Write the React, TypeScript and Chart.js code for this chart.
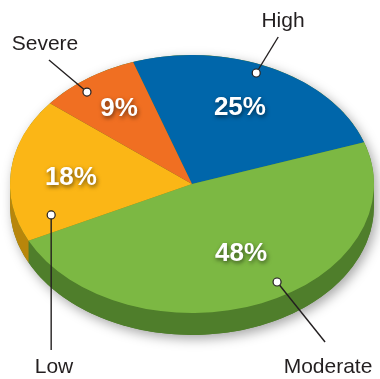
import React, { useEffect, useRef } from "react";
import { Chart, registerables } from "chart.js";

Chart.register(...registerables);

const categories = ["High", "Moderate", "Low", "Severe"];
const values = [25, 48, 18, 9];
const percentLabels = ["25%", "48%", "18%", "9%"];

const topColors = ["#0066aa", "#7cb843", "#fbb616", "#f06f22"];
const sideColors = ["#004a7c", "#4f7e2b", "#b8860b", "#b0501a"];

const TILT = 129 / 182; // vertical squash of the pie
const DEPTH = 22; // thickness of the pie

// placement of percentage labels: radius fraction and angular shift (deg) from slice middle
const labelFrac = [0.645, 0.606, 0.667, 0.706];
const labelShift = [-2, -3.9, -2.3, 0.5];

// callout definitions: dot at (angle in degrees, radius fraction), line end offset, text position
const callouts = [
  { idx: 0, angle: -67.7, frac: 0.93, dx: 22, dy: -36, tx: 283, ty: 27 },
  { idx: 1, angle: 58.4, frac: 0.892, dx: 48, dy: 60, tx: 328, ty: 373 },
  { idx: 2, angle: 162.8, frac: 0.81, dx: 0, dy: 135, tx: 54, ty: 373 },
  { idx: 3, angle: 231, frac: 0.917, dx: -38, dy: -32, tx: 45, ty: 50 },
];

const pie3d = {
  id: "pie3d",
  beforeDatasetsDraw(chart: any) {
    const ctx = chart.ctx as CanvasRenderingContext2D;
    const arcs = chart.getDatasetMeta(0).data as any[];
    if (!arcs.length) return;
    const { x: cx, y: cy, outerRadius: rx } = arcs[0].getProps(["x", "y", "outerRadius"], true);
    const ry = rx * TILT;

    // shadow under whole body
    ctx.save();
    ctx.shadowColor = "rgba(0,0,0,0.35)";
    ctx.shadowBlur = 12;
    ctx.shadowOffsetX = 3;
    ctx.shadowOffsetY = 4;
    ctx.fillStyle = sideColors[1];
    ctx.beginPath();
    ctx.ellipse(cx, cy, rx, ry, 0, Math.PI, 0, false);
    ctx.ellipse(cx, cy + DEPTH, rx, ry, 0, 0, Math.PI, false);
    ctx.closePath();
    ctx.fill();
    ctx.restore();

    // sides
    const TWO = Math.PI * 2;
    arcs.forEach((arc: any, i: number) => {
      const { startAngle, endAngle } = arc.getProps(["startAngle", "endAngle"], true);
      for (let k = -1; k <= 1; k++) {
        const s = startAngle + k * TWO;
        const e = endAngle + k * TWO;
        const a1 = Math.max(s, 0);
        const a2 = Math.min(e, Math.PI);
        if (a2 > a1) {
          ctx.save();
          ctx.fillStyle = sideColors[i];
          ctx.beginPath();
          ctx.ellipse(cx, cy, rx, ry, 0, a1, a2, false);
          ctx.ellipse(cx, cy + DEPTH, rx, ry, 0, a2, a1, true);
          ctx.closePath();
          ctx.fill();
          ctx.restore();
        }
      }
    });

    ctx.save();
    ctx.translate(cx, cy);
    ctx.scale(1, TILT);
    ctx.translate(-cx, -cy);
  },
  afterDatasetsDraw(chart: any) {
    const ctx = chart.ctx as CanvasRenderingContext2D;
    ctx.restore();
    const arcs = chart.getDatasetMeta(0).data as any[];
    if (!arcs.length) return;
    const { x: cx, y: cy, outerRadius: rx } = arcs[0].getProps(["x", "y", "outerRadius"], true);
    const ry = rx * TILT;

    // percentages
    ctx.save();
    ctx.font = "bold 26px 'Liberation Sans', Arial, sans-serif";
    ctx.textAlign = "center";
    ctx.textBaseline = "middle";
    ctx.fillStyle = "#ffffff";
    ctx.shadowColor = "rgba(0,0,0,0.55)";
    ctx.shadowBlur = 4;
    ctx.shadowOffsetX = 1;
    ctx.shadowOffsetY = 2;
    arcs.forEach((arc: any, i: number) => {
      const { startAngle, endAngle } = arc.getProps(["startAngle", "endAngle"], true);
      const mid = (startAngle + endAngle) / 2 + (labelShift[i] * Math.PI) / 180;
      const f = labelFrac[i];
      const x = cx + rx * f * Math.cos(mid);
      const y = cy + ry * f * Math.sin(mid);
      ctx.fillText(percentLabels[i], x, y);
    });
    ctx.restore();

    // callouts
    ctx.save();
    ctx.strokeStyle = "#231f20";
    ctx.fillStyle = "#231f20";
    ctx.lineWidth = 1.4;
    ctx.font = "21px 'Liberation Sans', Arial, sans-serif";
    ctx.textAlign = "center";
    ctx.textBaseline = "alphabetic";
    callouts.forEach((c) => {
      const a = (c.angle * Math.PI) / 180;
      const px = cx + rx * c.frac * Math.cos(a);
      const py = cy + ry * c.frac * Math.sin(a);
      ctx.beginPath();
      ctx.moveTo(px, py);
      ctx.lineTo(px + c.dx, py + c.dy);
      ctx.stroke();
      ctx.beginPath();
      ctx.arc(px, py, 4, 0, Math.PI * 2);
      ctx.fillStyle = "#ffffff";
      ctx.fill();
      ctx.lineWidth = 1.2;
      ctx.stroke();
      ctx.lineWidth = 1.4;
      ctx.fillStyle = "#231f20";
      ctx.fillText(categories[c.idx], c.tx, c.ty);
    });
    ctx.restore();
  },
};

export default function App() {
  const ref = useRef<HTMLCanvasElement | null>(null);
  useEffect(() => {
    if (!ref.current) return;
    const chart = new Chart(ref.current, {
      type: "pie",
      data: {
        labels: categories,
        datasets: [
          {
            data: values,
            backgroundColor: topColors,
            borderWidth: 0,
            clip: false as any,
          },
        ],
      },
      options: {
        responsive: false,
        animation: false,
        devicePixelRatio: 1,
        rotation: -18.9,
        layout: { padding: { left: 10, right: 6, top: 2, bottom: 13 } },
        plugins: {
          legend: { display: false },
          tooltip: { enabled: false },
        },
      },
      plugins: [pie3d],
    });
    return () => chart.destroy();
  }, []);
  return (
    <div style={{ position: "absolute", left: 0, top: 0, width: 380, height: 379, background: "#ffffff" }}>
      <canvas ref={ref} width={380} height={379} style={{ display: "block" }} />
    </div>
  );
}
